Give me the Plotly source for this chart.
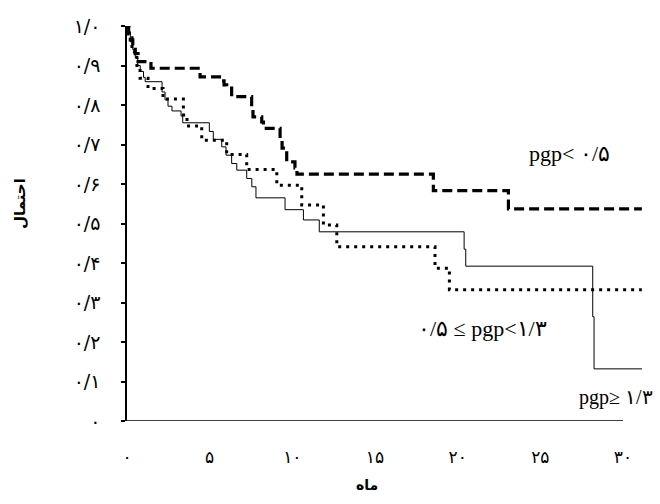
import plotly.graph_objects as go

# ---- data (months, survival probability) ----
low_x = [0, 0.1, 0.2, 0.35, 0.5, 0.67, 1.45, 4.42, 5.73, 5.87, 6.03, 6.33, 7.54, 7.62,
         8.15, 8.25, 9.26, 9.38, 9.66, 10.16, 10.28, 18.53, 23.07, 31.14]
low_y = [1.0, 0.98, 0.965, 0.95, 0.93, 0.91, 0.893, 0.871, 0.861, 0.851, 0.843, 0.821,
         0.792, 0.770, 0.757, 0.741, 0.716, 0.691, 0.656, 0.641, 0.625, 0.583, 0.537, 0.537]

mid_x = [0, 0.15, 0.3, 0.45, 0.6, 0.79, 1.27, 2.18, 3.41, 3.63, 4.52, 6.03, 7.24, 9.06,
         10.57, 11.88, 12.69, 18.63, 19.50, 31.14]
mid_y = [1.0, 0.97, 0.94, 0.92, 0.895, 0.868, 0.842, 0.815, 0.775, 0.747, 0.711, 0.675,
         0.637, 0.597, 0.547, 0.496, 0.441, 0.387, 0.332, 0.332]

high_x = [0, 0.1, 0.2, 0.35, 0.5, 0.65, 0.8, 1.0, 1.1, 2.12, 2.30, 2.48, 2.72, 3.27, 3.37,
          4.98, 5.22, 5.73, 5.99, 6.33, 6.64, 7.24, 7.55, 7.80, 9.56, 10.67, 11.63,
          20.39, 20.49, 28.17, 28.25, 31.15]
high_y = [1.0, 0.98, 0.96, 0.94, 0.92, 0.90, 0.885, 0.87, 0.859, 0.833, 0.813, 0.797, 0.785,
          0.772, 0.755, 0.733, 0.713, 0.694, 0.673, 0.652, 0.635, 0.614, 0.593, 0.565,
          0.535, 0.509, 0.479, 0.435, 0.392, 0.264, 0.132, 0.132]

y_ticks = [0, 0.1, 0.2, 0.3, 0.4, 0.5, 0.6, 0.7, 0.8, 0.9, 1.0]
y_labels = ["۰", "۰/۱", "۰/۲", "۰/۳", "۰/۴", "۰/۵", "۰/۶", "۰/۷", "۰/۸", "۰/۹", "۱/۰"]
x_label_vals = [0, 5, 10, 15, 20, 25, 30]
x_labels = ["۰", "۵", "۱۰", "۱۵", "۲۰", "۲۵", "۳۰"]
x_tick_vals = [0, 10, 20, 30]

series_labels = ["pgp< ۰/۵", "۰/۵ ≤ pgp<۱/۳", "pgp≥ ۱/۳"]

XMAX = 31.15
FONT = "DejaVu Sans"
SERIF = "Liberation Serif, Times New Roman, DejaVu Serif, serif"

W, H = 660, 504
L, R, T, B = 127, 18, 26, 83
PW, PH = W - L - R, H - T - B


def px2paper(px, py):
    return (px - L) / PW, (H - B - py) / PH


fig = go.Figure()
fig.add_trace(go.Scatter(x=high_x, y=high_y, mode="lines", line_shape="hv",
                         line=dict(color="black", width=1), name=series_labels[2]))
fig.add_trace(go.Scatter(x=mid_x, y=mid_y, mode="lines", line_shape="hv",
                         line=dict(color="black", width=3, dash="3px,5px"), name=series_labels[1]))
fig.add_trace(go.Scatter(x=low_x, y=low_y, mode="lines", line_shape="hv",
                         line=dict(color="black", width=3.2, dash="10px,5px"), name=series_labels[0]))

# series labels: (text, left-edge px, centre-y px, size)
for txt, (lx, cy, fs) in zip(series_labels, [(527, 153, 22), (416, 328, 22), (577, 397, 20)]):
    ax_, ay_ = px2paper(lx, cy)
    fig.add_annotation(x=ax_, y=ay_, xref="paper", yref="paper", text=txt,
                       showarrow=False, xanchor="left", yanchor="middle",
                       font=dict(family=SERIF, size=fs, color="black"))

# axis titles
ax_, ay_ = px2paper(20, 204)
fig.add_annotation(x=ax_, y=ay_, xref="paper", yref="paper", text="<b>احتمال</b>",
                   showarrow=False, textangle=-90, xanchor="center", yanchor="middle",
                   font=dict(family=FONT, size=15, color="black"))
ax_, ay_ = px2paper(367, 485)
fig.add_annotation(x=ax_, y=ay_, xref="paper", yref="paper", text="<b>ماه</b>",
                   showarrow=False, xanchor="center", yanchor="middle",
                   font=dict(family=FONT, size=14, color="black"))

# x axis line (ends at 30)
fig.add_shape(type="line", xref="x", yref="y", x0=0, x1=30, y0=0, y1=0,
              line=dict(color="black", width=1.5))

fig.update_layout(
    width=W, height=H,
    margin=dict(l=L, r=R, t=T, b=B),
    paper_bgcolor="white", plot_bgcolor="white",
    showlegend=False,
    xaxis=dict(range=[0, XMAX], showgrid=False, zeroline=False, showline=False,
               tickmode="array", tickvals=x_label_vals, ticktext=x_labels,
               ticks="", ticklabelstandoff=24,
               tickfont=dict(family=FONT, size=17, color="black")),
    xaxis2=dict(range=[0, XMAX], overlaying="x", anchor="y", side="bottom",
                showgrid=False, zeroline=False, showline=False,
                tickmode="array", tickvals=x_tick_vals, ticks="outside", ticklen=4,
                tickwidth=1.5, tickcolor="black", showticklabels=False),
    yaxis=dict(range=[0, 1], showgrid=False, zeroline=False, showline=True,
               linecolor="black", linewidth=1.5,
               tickmode="array", tickvals=y_ticks, ticktext=y_labels,
               ticks="outside", ticklen=4, tickwidth=1.5, tickcolor="black",
               ticklabelstandoff=17,
               tickfont=dict(family=FONT, size=19, color="black")),
)

fig.write_html("out.html",
               config={"displayModeBar": False},
               post_script="document.body.style.margin='0px';"
                           "document.body.style.overflow='hidden';")
